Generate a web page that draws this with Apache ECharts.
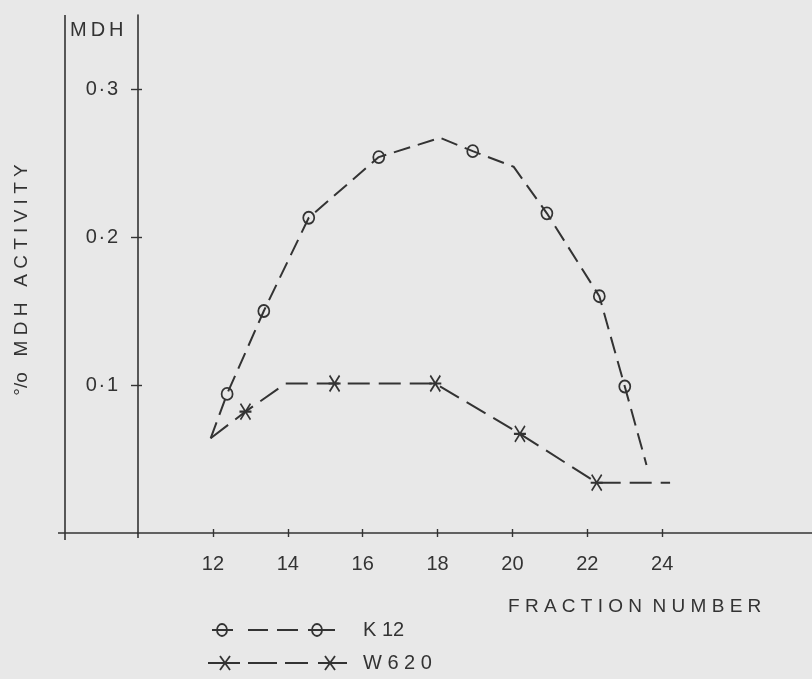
<!DOCTYPE html>
<html>
<head>
<meta charset="utf-8">
<script src="https://cdn.jsdelivr.net/npm/echarts@6/dist/echarts.min.js"></script>
<style>
  html, body { margin: 0; padding: 0; background: #e8e8e8; }
  #chart { width: 812px; height: 679px; }
</style>
</head>
<body>
<div id="chart"></div>
<script>
// MDH activity across gradient fractions for two strains
const k12Fraction = [11.94, 12.38, 13.36, 14.56, 16.43, 18.07, 18.94, 20.03, 20.92, 22.32, 23.0, 23.58];
const k12Activity = [0.064, 0.094, 0.150, 0.213, 0.254, 0.267, 0.258, 0.2475, 0.216, 0.160, 0.099, 0.046];
const k12Marked   = [false, true, true, true, true, false, true, false, true, true, true, false];

const w620Fraction = [11.94, 12.87, 13.94, 15.25, 17.94, 20.2, 22.25, 24.21];
const w620Activity = [0.064, 0.082, 0.101, 0.101, 0.101, 0.067, 0.034, 0.034];
const w620Marked   = [false, true, false, true, true, true, true, false];

const xTickValues = [12, 14, 16, 18, 20, 22, 24];
const yTickValues = [0.1, 0.2, 0.3];
const yTickLabels = ['0\u200a·\u200a1', '0\u200a·\u200a2', '0\u200a·\u200a3'];

const seriesNames = ['K 12', 'W 6 2 0'];

const INK = '#333';
const FONT = 'Liberation Sans';
const circleSymbol = 'circle';
const starSymbol = 'path://M-5,-8L5,8M5,-8L-5,8M-6,0L6,0';

function buildData(xs, ys, marks, symbol, size) {
  return xs.map((x, i) => ({
    value: [x, ys[i]],
    symbol: marks[i] ? symbol : 'none',
    symbolSize: size
  }));
}

const chart = echarts.init(document.getElementById('chart'), null, { renderer: 'canvas' });

const axisText = { color: INK, fontFamily: FONT, fontSize: 20 };

function seg(x1, y1, x2, y2, w) {
  return { type: 'line', shape: { x1: x1, y1: y1, x2: x2, y2: y2 }, style: { stroke: INK, lineWidth: w } };
}

function legendRow(y, symbol, segs, centers, label) {
  const els = segs.map(s => seg(s[0], y, s[1], y, 2));
  centers.forEach(cx => {
    if (symbol === 'circle') {
      els.push({
        type: 'ellipse',
        shape: { cx: cx, cy: y, rx: 5, ry: 6 },
        style: { fill: 'none', stroke: INK, lineWidth: 1.8 }
      });
    } else {
      els.push(seg(cx - 5, y - 7, cx + 5, y + 7, 1.8));
      els.push(seg(cx + 5, y - 7, cx - 5, y + 7, 1.8));
    }
  });
  els.push({
    type: 'text',
    x: 363, y: y,
    style: { text: label, fill: INK, font: '20px "' + FONT + '"', verticalAlign: 'middle', align: 'left' }
  });
  return els;
}

const option = {
  backgroundColor: '#e8e8e8',
  animation: false,
  grid: { left: 138, right: 0, top: 15, bottom: 146, containLabel: false, outerBoundsMode: 'none' },
  xAxis: [
    {
      type: 'value', min: 10, max: 28,
      axisLine: { show: true, onZero: false, lineStyle: { color: INK, width: 1.6 } },
      axisTick: { show: true, customValues: xTickValues, length: 4, lineStyle: { color: INK, width: 1.4 } },
      axisLabel: { show: true, customValues: xTickValues, margin: 21, ...axisText },
      splitLine: { show: false }
    },
    {
      type: 'value', min: 10, max: 28, position: 'bottom',
      axisLine: { show: false, onZero: false },
      axisTick: { show: true, inside: true, customValues: xTickValues, length: 4, lineStyle: { color: INK, width: 1.4 } },
      axisLabel: { show: false },
      splitLine: { show: false }
    }
  ],
  yAxis: [
    {
      type: 'value', min: 0, max: 0.35,
      axisLine: { show: true, onZero: false, lineStyle: { color: INK, width: 1.6 } },
      axisTick: { show: true, customValues: yTickValues, length: 7, lineStyle: { color: INK, width: 1.4 } },
      axisLabel: {
        show: true, customValues: yTickValues, margin: 20, ...axisText,
        formatter: v => {
          const i = yTickValues.findIndex(t => Math.abs(t - v) < 1e-9);
          return i >= 0 ? yTickLabels[i] : '';
        }
      },
      splitLine: { show: false }
    },
    {
      type: 'value', min: 0, max: 0.35, position: 'left',
      axisLine: { show: false, onZero: false },
      axisTick: { show: true, inside: true, customValues: yTickValues, length: 4, lineStyle: { color: INK, width: 1.4 } },
      axisLabel: { show: false },
      splitLine: { show: false }
    }
  ],
  series: [
    {
      name: seriesNames[0],
      type: 'line',
      xAxisIndex: 0, yAxisIndex: 0,
      showAllSymbol: true,
      data: buildData(k12Fraction, k12Activity, k12Marked, circleSymbol, [11, 12]),
      lineStyle: { color: INK, width: 2, type: [17, 8] },
      itemStyle: { color: 'rgba(0,0,0,0)', borderColor: INK, borderWidth: 1.8 },
      emphasis: { disabled: true },
      z: 3
    },
    {
      name: seriesNames[1],
      type: 'line',
      xAxisIndex: 0, yAxisIndex: 0,
      showAllSymbol: true,
      data: buildData(w620Fraction, w620Activity, w620Marked, starSymbol, [12, 16]),
      lineStyle: { color: INK, width: 2, type: [22, 9] },
      itemStyle: { color: 'rgba(0,0,0,0)', borderColor: INK, borderWidth: 1.8 },
      emphasis: { disabled: true },
      z: 3
    }
  ],
  graphic: [
    // outer frame line at the far left
    seg(65, 15, 65, 540, 1.6),
    // baseline continued to the left of the value axis
    seg(58, 533, 138, 533, 1.6),
    seg(138, 533, 138, 538, 1.6),
    {
      type: 'text', x: 70, y: 30,
      style: { text: 'M\u2009D\u2009H', fill: INK, font: '20px "' + FONT + '"', verticalAlign: 'middle', align: 'left' }
    },
    {
      type: 'text', x: 22, y: 280, rotation: Math.PI / 2,
      style: {
        text: '°/o   M D H   A C T I V I T Y',
        fill: INK, font: '19px "' + FONT + '"', verticalAlign: 'middle', align: 'center'
      }
    },
    {
      type: 'text', x: 508, y: 607,
      style: {
        text: 'F R A C T I O N  N U M B E R',
        fill: INK, font: '19px "' + FONT + '"', verticalAlign: 'middle', align: 'left'
      }
    },
    ...legendRow(630, 'circle', [[212, 233], [248, 268], [277, 298], [308, 335]], [222, 317], seriesNames[0]),
    ...legendRow(663, 'star', [[208, 240], [248, 277], [285, 308], [318, 347]], [225, 330], seriesNames[1])
  ]
};

chart.setOption(option);
</script>
</body>
</html>
